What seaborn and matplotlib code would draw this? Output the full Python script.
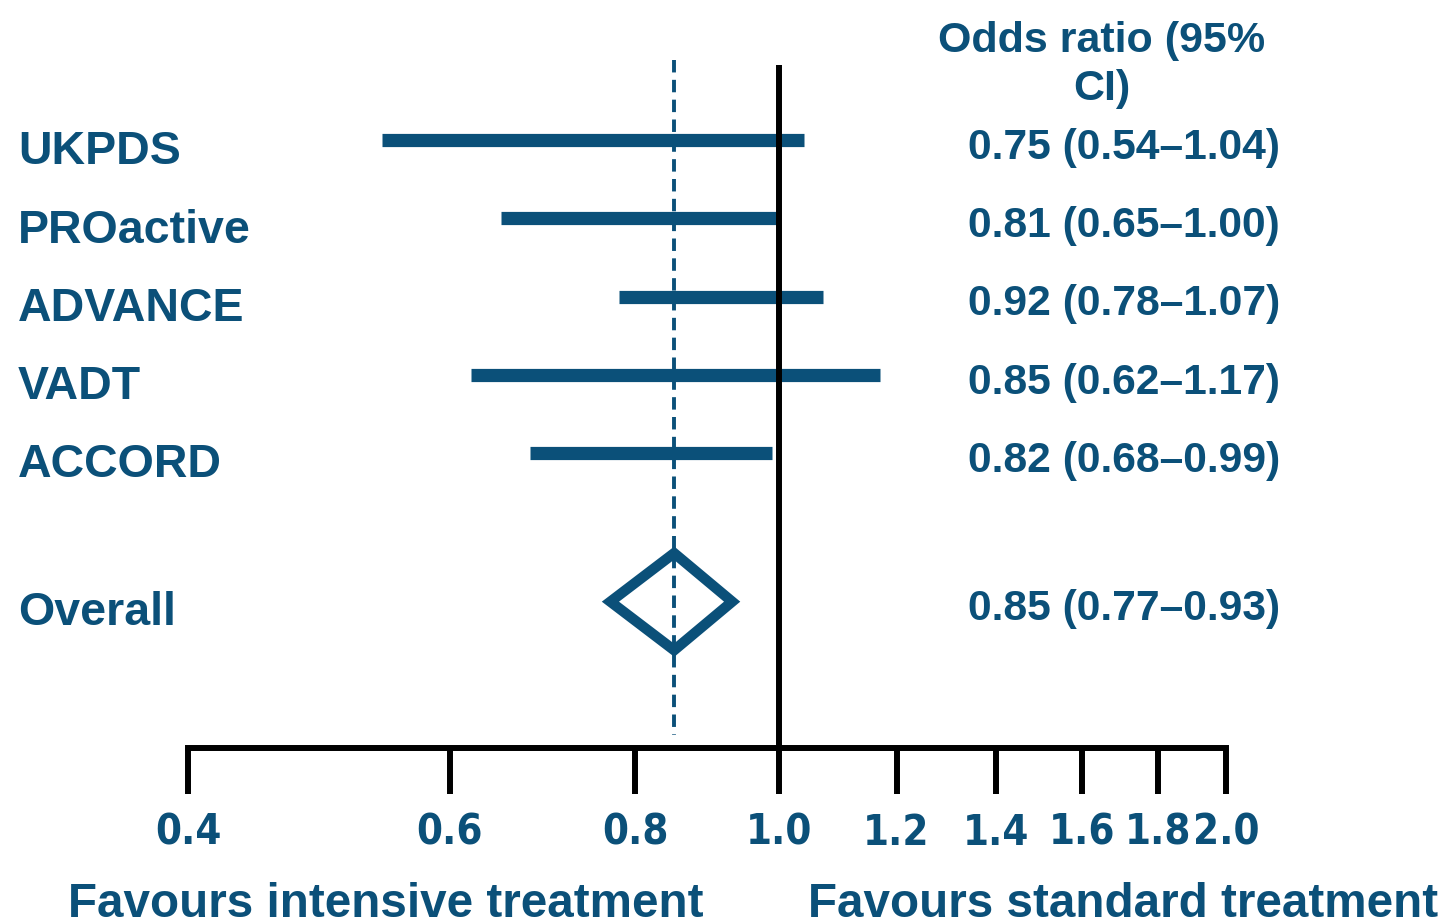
import numpy as np
import pandas as pd
import matplotlib
matplotlib.use("Agg")
import matplotlib.pyplot as plt
from matplotlib.patches import Polygon
from matplotlib import transforms
import seaborn as sns

# Trial-level odds ratios with 95% confidence intervals
studies = ["UKPDS", "PROactive", "ADVANCE", "VADT", "ACCORD"]
odds_ratio = [0.75, 0.81, 0.92, 0.85, 0.82]
ci_low = [0.54, 0.65, 0.78, 0.62, 0.68]
ci_high = [1.04, 1.00, 1.07, 1.17, 0.99]

# Pooled estimate
overall_label = "Overall"
overall_or = 0.85
overall_low = 0.77
overall_high = 0.93

tick_values = [0.4, 0.6, 0.8, 1.0, 1.2, 1.4, 1.6, 1.8, 2.0]
tick_labels = ["0.4", "0.6", "0.8", "1.0", "1.2", "1.4", "1.6", "1.8", "2.0"]

header = "Odds ratio (95%\nCI)"
left_caption = "Favours intensive treatment"
right_caption = "Favours standard treatment"

BLUE = "#0b5079"
W, H = 1447, 924

sns.set_theme(style="white")
plt.rcParams["font.family"] = ["Liberation Sans", "DejaVu Sans"]

fig = plt.figure(figsize=(W / 100, H / 100), dpi=100)
fig.patch.set_facecolor("white")

ax_left, ax_right, ax_bottom_px, ax_top_px = 188, 1226, 748, 40
ax = fig.add_axes([ax_left / W, (H - ax_bottom_px) / H,
                   (ax_right - ax_left) / W, (ax_bottom_px - ax_top_px) / H])
ax.set_facecolor("white")

row_pos = list(range(len(studies)))
overall_pos = 5.9

# Confidence-interval segments drawn as lines, one unit per study
segments = pd.DataFrame({
    "study": np.repeat(studies, 2),
    "value": np.ravel(np.column_stack([ci_low, ci_high])),
    "row": np.repeat(row_pos, 2),
})
sns.lineplot(data=segments, x="value", y="row", units="study", estimator=None,
             sort=False, color=BLUE, linewidth=9.5, solid_capstyle="butt",
             legend=False, ax=ax)

# Pooled estimate diamond
diamond = Polygon([(overall_low, overall_pos), (overall_or, overall_pos - 0.62),
                   (overall_high, overall_pos), (overall_or, overall_pos + 0.62)],
                  closed=True, facecolor="none", edgecolor=BLUE, linewidth=7.5,
                  joinstyle="miter", zorder=3)
ax.add_patch(diamond)

# Reference lines: pooled estimate and line of no effect
ax.vlines(overall_or, -1.02, 7.6, colors=BLUE, linewidth=2.8,
          linestyles=(0, (3.2, 1.9)), zorder=2)
ax.vlines(1.0, -0.96, 7.77, colors="black", linewidth=4.3, zorder=4)

ax.set_xscale("log")
ax.set_xlim(0.4, 2.0)
ax.set_ylim(7.77, -1.278)
ax.set_xticks(tick_values)
ax.set_xticklabels(tick_labels)
ax.xaxis.set_minor_locator(matplotlib.ticker.NullLocator())
ax.set_yticks([])
ax.set_xlabel("")
ax.set_ylabel("")
ax.grid(False)

for side in ["top", "left", "right"]:
    ax.spines[side].set_visible(False)
ax.spines["bottom"].set_linewidth(4.3)
ax.spines["bottom"].set_color("black")
ax.spines["bottom"].set_capstyle("projecting")
ax.tick_params(axis="x", direction="out", length=33, width=4.3, color="black",
               pad=13, labelsize=30, labelcolor=BLUE, bottom=True)
for lab in ax.get_xticklabels():
    lab.set_fontfamily(["DejaVu Sans", "Liberation Sans"])
    lab.set_fontstretch("condensed")
    lab.set_fontweight("bold")

# Study names on the left, estimates on the right
fig_x = transforms.blended_transform_factory(fig.transFigure, ax.transData)
for name, r in zip(studies, row_pos):
    ax.text(18 / W, r + 0.31, name, transform=fig_x, ha="left", va="baseline",
            fontsize=33.5, fontweight="bold", color=BLUE)
ax.text(18 / W, overall_pos + 0.3, overall_label, transform=fig_x, ha="left",
        va="baseline", fontsize=33.5, fontweight="bold", color=BLUE)

for o, lo, hi, r in zip(odds_ratio, ci_low, ci_high, row_pos):
    ax.text(968 / W, r + 0.24, f"{o:.2f} ({lo:.2f}\u2013{hi:.2f})", transform=fig_x,
            ha="left", va="baseline", fontsize=30.7, fontweight="bold", color=BLUE)
ax.text(968 / W, overall_pos + 0.24,
        f"{overall_or:.2f} ({overall_low:.2f}\u2013{overall_high:.2f})",
        transform=fig_x, ha="left", va="baseline", fontsize=30.7,
        fontweight="bold", color=BLUE)

# Column header, two lines, last baseline just above the first estimate
fig.text(1102 / W, 1 - 100 / H, header, ha="center", va="baseline", fontsize=31,
         fontweight="bold", color=BLUE, linespacing=1.26)

fig.text(68 / W, 1 - 917 / H, left_caption, ha="left", va="baseline",
         fontsize=34.3, fontweight="bold", color=BLUE)
fig.text(808 / W, 1 - 917 / H, right_caption, ha="left", va="baseline",
         fontsize=34.3, fontweight="bold", color=BLUE)

fig.savefig("out.png", dpi=100, facecolor="white")
